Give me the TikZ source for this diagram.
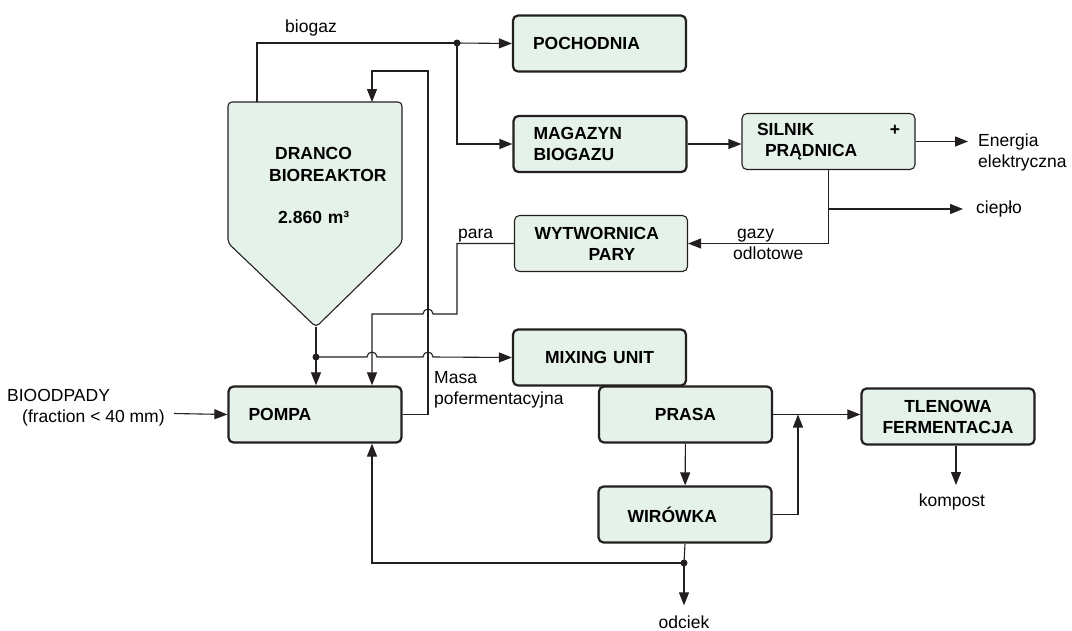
\documentclass[tikz,border=0pt]{standalone}
\usepackage{fontspec}
\setmainfont{Liberation Sans}
\usetikzlibrary{arrows.meta}
\definecolor{boxfill}{RGB}{228,242,233}
\definecolor{ink}{RGB}{35,31,32}
\newcommand\diagfont{\fontsize{17.5}{21}\selectfont}
\tikzset{
  unit/.style={draw=ink,line width=2.2pt,fill=boxfill,rounded corners=5pt,minimum height=56pt,
    inner xsep=20pt,inner ysep=2pt,text width=133pt,align=left,font=\diagfont\bfseries},
  thinunit/.style={unit,line width=1.1pt},
  pipe/.style={draw=ink,line width=1.1pt},
  flow/.style={pipe,-{Triangle[length=13pt,width=10pt]}},
  junction/.style={circle,fill=ink,inner sep=0pt,minimum size=7pt},
  lbl/.style={inner sep=1pt,align=left},
  reactortext/.style={lbl,anchor=west,font=\diagfont\bfseries}
}
\begin{document}
\begin{tikzpicture}[x=1pt,y=-1pt,font=\diagfont]
  \def\hopright{arc[start angle=180,end angle=0,radius=5pt]}
  \def\hopleft{arc[start angle=0,end angle=180,radius=5pt]}
  \path[use as bounding box] (0,0) rectangle (1072,630);
  % reactor
  \draw[draw=ink,line width=1.1pt,fill=boxfill,rounded corners=4pt]
    (228,102) -- (402,102) -- (402,243) -- (316,327) -- (228,243) -- cycle;
  \coordinate (gasout) at (257,102);
  \coordinate (feedin) at (372,102);
  \coordinate (tip) at (316,327);
  \node[reactortext] (dranco) at (274,153) {DRANCO};
  \node[reactortext] (bioreaktor) at (268,175) {BIOREAKTOR};
  \node[reactortext] (objetosc) at (277,217) {2.860\,\,m³};
  % units
  \node[unit] (pochodnia) at (599.5,43.5) {POCHODNIA};
  \node[unit] (magazyn) at (600,144) {MAGAZYN\\BIOGAZU};
  \node[thinunit,inner xsep=15pt,text width=143pt] (silnik) at (828.5,141.5)
    {SILNIK\hfill+\hspace*{11pt}\\\hspace*{8pt}PRĄDNICA};
  \node[thinunit] (wytwornica) at (601,243.5) {WYTWORNICA\\\hspace*{54pt}PARY};
  \node[unit,align=center] (mixing) at (599.5,357.5) {MIXING UNIT};
  \node[unit] (pompa) at (315,414.5) {POMPA};
  \node[unit,align=center] (prasa) at (685.5,414.5) {PRASA};
  \node[unit] (wirowka) at (685,514.5) {\hspace*{9pt}WIRÓWKA};
  \node[unit,align=center] (tlenowa) at (948,416.5) {TLENOWA\\FERMENTACJA};
  % labels
  \node[lbl] (biogaz) at (311,28) {biogaz};
  \node[lbl,anchor=west] (energia) at (977,152) {Energia\\elektryczna};
  \node[lbl,anchor=west] (cieplo) at (975,209) {ciepło};
  \node[lbl,anchor=west] (gazy) at (732,244) {\hspace*{4pt}gazy\\odlotowe};
  \node[lbl,anchor=south west] (para) at (457,243) {para};
  \node[lbl,anchor=west] (masa) at (433,390) {Masa\\pofermentacyjna};
  \node[lbl,anchor=west] (bioodpady) at (6,408) {BIOODPADY\\\hspace*{15pt}(fraction < 40 mm)};
  \node[lbl] (kompost) at (952,502) {kompost};
  \node[lbl] (odciek) at (684,622) {odciek};
  \coordinate (wejscie) at (174,413.5);
  \coordinate (ret) at (428,71);
  \coordinate (parabend) at (457,314);
  \coordinate (paradown) at (372,314);
  \coordinate (j3) at (798,414.5);
  \node[junction] (j1) at (457,43) {};
  \node[junction] (j2) at (316,357) {};
  \node[junction] (j4) at (684,563) {};
  % biogas
  \draw[pipe] (gasout) |- (j1.center);
  \draw[flow] (j1.center) -- (pochodnia.west);
  \draw[flow] (j1.center) |- (magazyn.west);
  \draw[flow] (magazyn.east) -- (magazyn.east -| silnik.west);
  \draw[flow,shorten >=9pt] (silnik.east) -- (silnik.east -| energia.west);
  \draw[flow] (silnik.south) |- (wytwornica.east);
  \draw[flow,shorten >=12pt] (silnik.south |- cieplo.west) -- (cieplo.west);
  % recirculation
  \draw[flow] (pompa.east) -| (ret) -| (feedin);
  \draw[flow] (wytwornica.west) -| (parabend) -- (433,314) \hopleft -- (paradown) -- (paradown |- pompa.north);
  \draw[pipe] (tip) -- (j2.center);
  \draw[flow] (j2.center) -- (j2 |- pompa.north);
  \draw[flow] (j2.center) -- (367,357) \hopright -- (423,357) \hopright -- (mixing.west);
  \draw[flow] (wejscie) -- (pompa.west);
  % dewatering
  \draw[flow] (prasa.east) -- (prasa.east -| tlenowa.west);
  \draw[flow] (wirowka.east) -| (j3);
  \draw[flow] (prasa) -- (wirowka);
  \draw[flow] (tlenowa.south -| 956,0) -- (956,485);
  \draw[pipe] (wirowka.south) -- (j4.center);
  \draw[flow] (j4.center) -- ([yshift=9pt]odciek.north);
  \draw[flow] (j4.center) -| (pompa.south -| paradown);
\end{tikzpicture}
\end{document}
